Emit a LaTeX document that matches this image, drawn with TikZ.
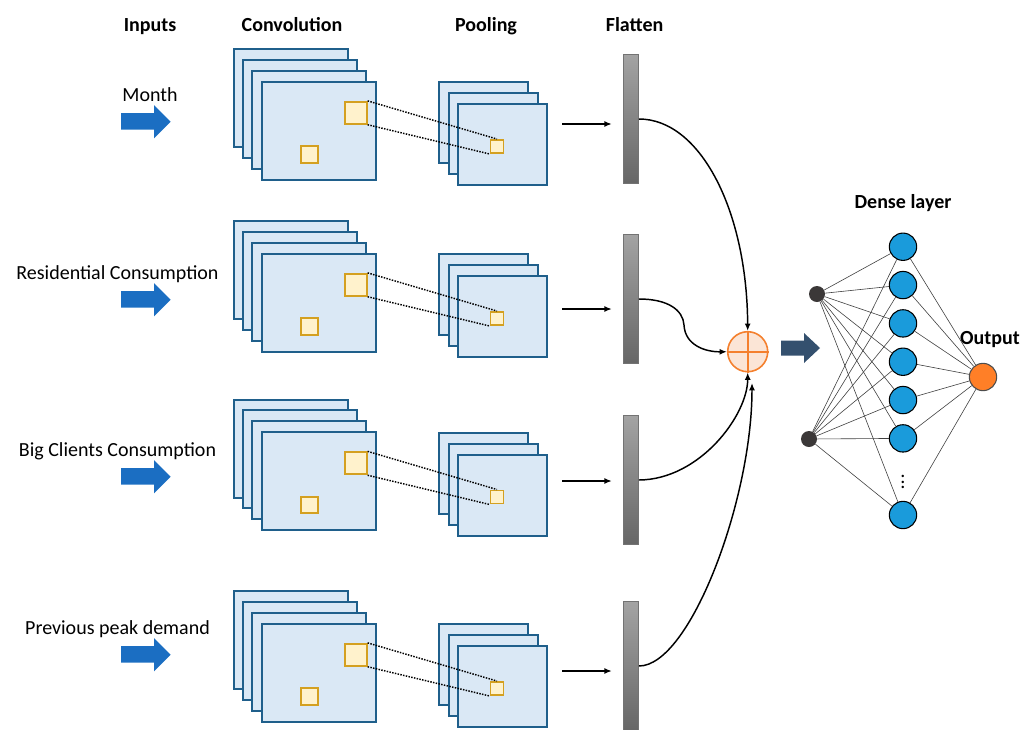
\documentclass[tikz,border=0pt]{standalone}
\usepackage{fontspec}
\setmainfont{Carlito}
\usetikzlibrary{arrows.meta}
\definecolor{mapfill}{HTML}{DAE8F5}
\definecolor{mapline}{HTML}{1F5F8B}
\definecolor{cellfill}{HTML}{FFF2CC}
\definecolor{cellline}{HTML}{D4A020}
\definecolor{inblue}{HTML}{1B6EC2}
\definecolor{sumfill}{HTML}{FBE5D6}
\definecolor{sumline}{HTML}{F4802E}
\definecolor{darkarrow}{HTML}{34506E}
\definecolor{unitblue}{HTML}{1A9BDB}
\definecolor{outorange}{HTML}{FF7F27}
\definecolor{dotgray}{HTML}{3B3838}
\begin{document}
\begin{tikzpicture}[x=0.75pt,y=-0.75pt,
    txt/.style={font=\fontsize{15}{18}\selectfont, inner sep=0pt, anchor=base},
    head/.style={txt, font=\fontsize{15}{18}\selectfont\bfseries},
    fmap/.style={draw=mapline, fill=mapfill, line width=1.5pt},
    bigcell/.style={draw=cellline, fill=cellfill, line width=1.4pt, inner sep=0pt, minimum size=16.5pt},
    smallcell/.style={bigcell, minimum size=12.5pt},
    poolcell/.style={bigcell, line width=1.2pt, minimum size=10pt},
    link/.style={densely dotted, line width=1.1pt},
    flat/.style={draw=black!55, top color=black!36, bottom color=black!60, minimum width=11.5pt, minimum height=97pt, inner sep=0pt},
    flow/.style={-{Latex[length=5.5pt,width=4.5pt]}, line width=1pt, shorten >=8.5pt},
    merge/.style={-{Latex[length=5.5pt,width=4.5pt]}, line width=1.1pt},
    sumnode/.style={circle, draw=sumline, fill=sumfill, line width=1.2pt, minimum size=30pt, inner sep=0pt},
    indot/.style={circle, fill=dotgray, minimum size=12pt, inner sep=0pt},
    unit/.style={circle, draw=black, fill=unitblue, line width=0.8pt, minimum size=20.5pt, inner sep=0pt},
    outunit/.style={unit, draw=black!70, fill=outorange},
    wire/.style={draw=black!75, line width=0.45pt}]
  \useasboundingbox (0,0) rectangle (1035,729);

  \node[head] (hinputs) at (150,31.5) {Inputs};
  \node[head] (hconv) at (292,31.5) {Convolution};
  \node[head] (hpool) at (486,31.5) {Pooling};
  \node[head] (hflat) at (634.6,31.5) {Flatten};

  \foreach \row/\lbl/\lx/\dl/\dc in {1/Month/150/0/0, 2/Residential Consumption/117.5/178/172,
      3/Big Clients Consumption/117.5/355/350.5, 4/Previous peak demand/117.5/533/542}{
    \node[txt] (lab\row) at (\lx,101.5+\dl) {\lbl};
    \fill[inblue] (121,113+\dl) -- (154,113+\dl) -- (154,105+\dl) -- (170.7,121.7+\dl)
      -- (154,138.4+\dl) -- (154,129.6+\dl) -- (121,129.6+\dl) -- cycle;
    \foreach \k in {0,...,3}
      \draw[fmap] (234+9.2*\k,49+10.9*\k+\dc) rectangle ++(114,98);
    \foreach \k in {0,...,2}
      \draw[fmap] (439+9.5*\k,82+11*\k+\dc) rectangle ++(89,81);
    \node[bigcell] (win\row) at (355.7,112.8+\dc) {};
    \node[smallcell] (cell\row) at (309.5,154.5+\dc) {};
    \node[poolcell] (pool\row) at (497,146.5+\dc) {};
    \draw[link] (win\row.north east) -- (pool\row.north);
    \draw[link] (win\row.south east) -- (pool\row.south west);
  }

  \foreach \row/\db/\ya in {1/0/124, 2/180/309, 3/361/481, 4/547/671}{
    \node[flat] (flat\row) at (631,119+\db) {};
    \coordinate (fa\row) at (562,\ya);
    \draw[flow] (fa\row) -- (fa\row -| flat\row.west);
  }

  \node[sumnode] (sum) at (747.7,351.7) {};
  \draw[sumline, line width=1.8pt] (sum.north) -- (sum.south) (sum.west) -- (sum.east);
  \coordinate (sumin) at (752,383);
  \draw[merge] (flat1.east) .. controls (700,119) and (747,210) .. (sum.north);
  \draw[merge] (flat2.east) .. controls (668,299) and (683,310) .. (684,325)
    .. controls (685,345) and (705,352) .. (sum.west);
  \draw[merge] (flat3.east) .. controls (700,479.5) and (747.7,415) .. (sum.south);
  \draw[merge] (flat4.east) .. controls (690,666) and (752,500) .. (sumin);

  \fill[darkarrow] (781,340.5) -- (804,340.5) -- (804,333) -- (820,348) -- (804,363)
    -- (804,355.5) -- (781,355.5) -- cycle;

  \node[head] (hdense) at (903,208) {Dense layer};
  \node[head] (hout) at (990,344.5) {Output};
  \node[indot] (in1) at (817,294) {};
  \node[indot] (in2) at (809,439) {};
  \foreach \j in {1,...,6}
    \node[unit] (h\j) at (903,208.4+38.33*\j) {};
  \node[unit] (h7) at (903,515) {};
  \node[font=\fontsize{15}{18}\selectfont, inner sep=0pt] (more) at (903,478) {$\vdots$};
  \node[outunit] (out) at (983,377) {};
  \foreach \j in {1,...,7}{
    \draw[wire] (in1) -- (h\j);
    \draw[wire] (in2) -- (h\j);
    \draw[wire] (h\j) -- (out);
  }
\end{tikzpicture}
\end{document}
